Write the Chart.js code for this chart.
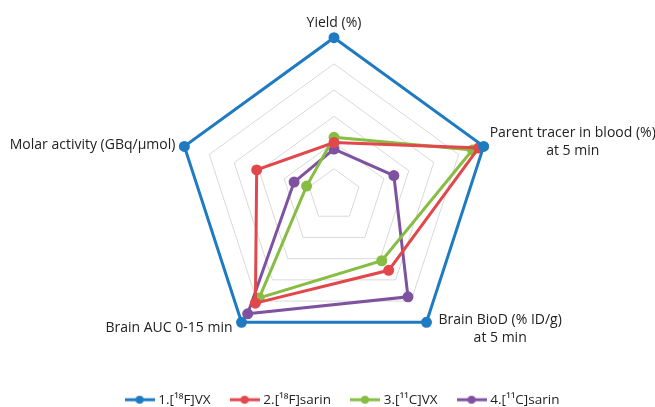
<!DOCTYPE html>
<html lang="en">
<head>
    <meta charset="UTF-8">
    <title>Radar comparison</title>
    <script src="https://cdn.jsdelivr.net/npm/chart.js"></script>
    <style>
        body, html {
            margin: 0;
            padding: 0;
            background: #fff;
        }
        .container {
            width: 655px;
            height: 407px;
        }
    </style>
</head>
<body>
    <div class="container">
        <canvas id="radarChart"></canvas>
    </div>

    <script>
        const categories = [
            'Yield (%)',
            ['Parent tracer in blood (%)', 'at 5 min'],
            ['Brain BioD (% ID/g)', 'at 5 min'],
            'Brain AUC 0-15 min',
            'Molar activity (GBq/\u00b5mol)'
        ];
        const seriesNames = ['1.[\u00b9\u2078F]VX', '2.[\u00b9\u2078F]sarin', '3.[\u00b9\u00b9C]VX', '4.[\u00b9\u00b9C]sarin'];
        const vxF18 = [6, 6, 6, 6, 6];
        const sarinF18 = [2.0, 5.8, 3.55, 5.1, 3.1];
        const vxC11 = [2.2, 5.55, 3.1, 4.85, 1.1];
        const sarinC11 = [1.75, 2.4, 4.8, 5.6, 1.6];
        const colors = ['#1f7bc1', '#e2474b', '#86bd42', '#7f52a0'];

        const labelFont = { family: 'Open Sans', size: 14 };

        // little line-with-dot swatch for the legend
        function swatch(color) {
            const c = document.createElement('canvas');
            c.width = 30;
            c.height = 10;
            const g = c.getContext('2d');
            g.strokeStyle = color;
            g.lineWidth = 3;
            g.beginPath();
            g.moveTo(0, 5);
            g.lineTo(30, 5);
            g.stroke();
            g.fillStyle = color;
            g.beginPath();
            g.arc(15, 5, 4, 0, Math.PI * 2);
            g.fill();
            return c;
        }

        // chart.js left-aligns multi-line point labels and puts side labels above the
        // vertex; the original centres the lines and sits them level with the vertex.
        // offsets are [x gap from vertex, y of first line's middle from vertex]
        const labelNudge = [[0, -15], [6, -13], [12, -2], [-9, 6], [-9, -1]];
        const centredLabels = {
            id: 'centredLabels',
            afterLayout(chart) {
                // legend in the original sits a bit right of centre
                chart.legend.left += 9;
                chart.legend.right += 9;
            },
            afterDraw(chart) {
                const scale = chart.scales.r;
                const g = chart.ctx;
                g.save();
                g.font = labelFont.size + 'px "' + labelFont.family + '"';
                g.fillStyle = '#222';
                g.textAlign = 'center';
                g.textBaseline = 'middle';
                const lh = 18;
                chart.data.labels.forEach((lab, i) => {
                    const v = scale.getPointPosition(i, scale.drawingArea);
                    const lines = Array.isArray(lab) ? lab : [lab];
                    const w = Math.max(...lines.map(l => g.measureText(l).width));
                    const [nx, ny] = labelNudge[i];
                    let cx = v.x;
                    if (nx > 0) cx = v.x + nx + w / 2;
                    if (nx < 0) cx = v.x + nx - w / 2;
                    lines.forEach((line, k) => {
                        g.fillText(line, cx, v.y + ny + k * lh);
                    });
                });
                g.restore();
            }
        };

        const allSeries = [vxF18, sarinF18, vxC11, sarinC11];
        const datasets = allSeries.map((vals, i) => ({
            label: seriesNames[i],
            data: vals,
            borderColor: colors[i],
            backgroundColor: colors[i],
            pointBackgroundColor: colors[i],
            pointBorderColor: colors[i],
            borderWidth: 3,
            pointRadius: 4,
            fill: false
        }));

        const ctx = document.getElementById('radarChart').getContext('2d');
        new Chart(ctx, {
            type: 'radar',
            data: { labels: categories, datasets: datasets },
            plugins: [centredLabels],
            options: {
                responsive: true,
                maintainAspectRatio: false,
                animation: false,
                layout: { padding: { top: 1, bottom: 0, left: 14, right: 0 } },
                scales: {
                    r: {
                        min: 0,
                        max: 6,
                        ticks: { stepSize: 1, display: false },
                        angleLines: { display: false },
                        grid: { color: '#d9d9d9', lineWidth: 1 },
                        pointLabels: {
                            color: 'rgba(0,0,0,0)',
                            padding: 5,
                            font: labelFont
                        }
                    }
                },
                plugins: {
                    tooltip: { enabled: false },
                    legend: {
                        position: 'bottom',
                        maxHeight: 36,
                        labels: {
                            usePointStyle: true,
                            pointStyleWidth: 24,
                            color: '#222',
                            padding: 22,
                            font: { family: 'Open Sans', size: 13.5 },
                            generateLabels: (chart) => chart.data.datasets.map((ds, i) => ({
                                text: ds.label,
                                pointStyle: swatch(colors[i]),
                                fillStyle: colors[i],
                                strokeStyle: colors[i],
                                lineWidth: 0,
                                fontColor: '#222',
                                datasetIndex: i
                            }))
                        }
                    }
                }
            }
        });
    </script>
</body>
</html>
